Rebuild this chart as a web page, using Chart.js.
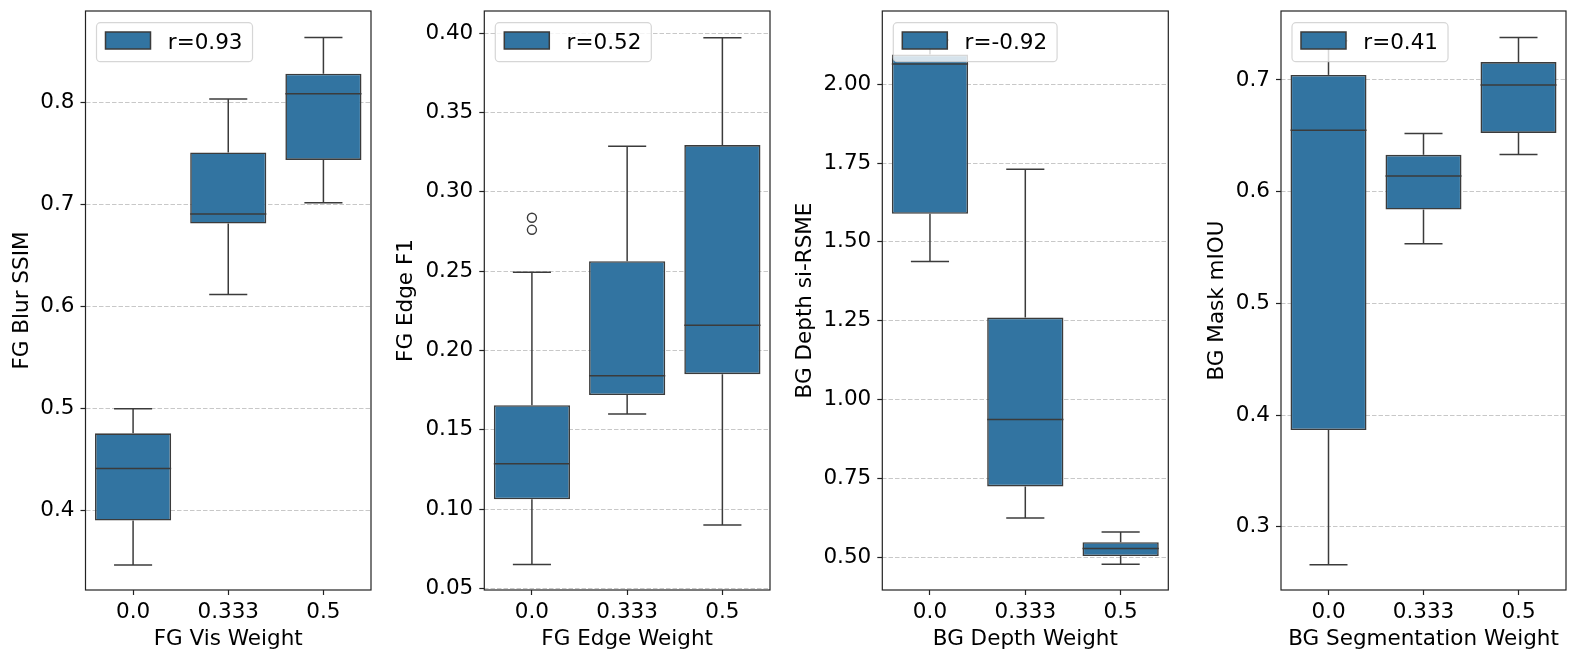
<!DOCTYPE html>
<html lang="en">
<head>
  <meta charset="UTF-8">
  <title>Weight vs metric boxplots</title>
  <script src="https://cdn.jsdelivr.net/npm/chart.js"></script>
  <style>
    body { margin: 0; background: #fff; }
    #wrap { position: relative; width: 1578px; height: 662px; overflow: hidden; background: #fff; }
    #wrap canvas { position: absolute; top: 0; }
  </style>
</head>
<body>
  <div id="wrap">
    <canvas id="c1" width="380" height="662" style="left:0px"></canvas>
    <canvas id="c2" width="396" height="662" style="left:380px"></canvas>
    <canvas id="c3" width="398" height="662" style="left:776px"></canvas>
    <canvas id="c4" width="404" height="662" style="left:1174px"></canvas>
  </div>

  <script>
    const categories = ['0.0', '0.333', '0.5'];

    // FG Vis Weight -> FG Blur SSIM
    const blurMin = [0.347, 0.612, 0.702];
    const blurQ1 = [0.3905, 0.6817, 0.744];
    const blurMed = [0.4416, 0.691, 0.809];
    const blurQ3 = [0.476, 0.7514, 0.8286];
    const blurMax = [0.500, 0.8037, 0.864];
    const blurOut = [[], [], []];
    const blurTicks = [0.4, 0.5, 0.6, 0.7, 0.8];

    // FG Edge Weight -> FG Edge F1
    const edgeMin = [0.065, 0.1599, 0.090];
    const edgeQ1 = [0.1062, 0.1719, 0.185];
    const edgeMed = [0.1286, 0.184, 0.2158];
    const edgeQ3 = [0.1655, 0.2562, 0.3294];
    const edgeMax = [0.2492, 0.3286, 0.397];
    const edgeOut = [[0.276, 0.2836], [], []];
    const edgeTicks = [0.05, 0.10, 0.15, 0.20, 0.25, 0.30, 0.35, 0.40];

    // BG Depth Weight -> BG Depth si-RSME
    const depthMin = [1.438, 0.625, 0.478];
    const depthQ1 = [1.589, 0.725, 0.504];
    const depthMed = [2.064, 0.937, 0.528];
    const depthQ3 = [2.094, 1.26, 0.548];
    const depthMax = [2.14, 1.730, 0.58];
    const depthOut = [[], [], []];
    const depthTicks = [0.50, 0.75, 1.00, 1.25, 1.50, 1.75, 2.00];

    // BG Segmentation Weight -> BG Mask mIOU
    const segMin = [0.266, 0.5534, 0.6333];
    const segQ1 = [0.3867, 0.584, 0.6526];
    const segMed = [0.655, 0.614, 0.6955];
    const segQ3 = [0.7045, 0.633, 0.716];
    const segMax = [0.735, 0.652, 0.738];
    const segOut = [[], [], []];
    const segTicks = [0.3, 0.4, 0.5, 0.6, 0.7];

    const BOX = '#3274a1';
    const LINE = '#3b3b3b';
    const FS = 21.5;
    const FONT = { family: 'DejaVu Sans', size: FS };

    const panels = [
      { id: 'c1', xTitle: 'FG Vis Weight', yTitle: 'FG Blur SSIM', legend: 'r=0.93',
        min: blurMin, q1: blurQ1, med: blurMed, q3: blurQ3, max: blurMax, out: blurOut,
        ticks: blurTicks, dec: 1, yMin: 0.3224, yMax: 0.890,
        axisW: 85.5, padR: 9, titlePad: 9.6 },
      { id: 'c2', xTitle: 'FG Edge Weight', yTitle: 'FG Edge F1', legend: 'r=0.52',
        min: edgeMin, q1: edgeQ1, med: edgeMed, q3: edgeQ3, max: edgeMax, out: edgeOut,
        ticks: edgeTicks, dec: 2, yMin: 0.049, yMax: 0.4139,
        axisW: 104.3, padR: 6, titlePad: 13.6 },
      { id: 'c3', xTitle: 'BG Depth Weight', yTitle: 'BG Depth si-RSME', legend: 'r=-0.92',
        min: depthMin, q1: depthQ1, med: depthMed, q3: depthQ3, max: depthMax, out: depthOut,
        ticks: depthTicks, dec: 2, yMin: 0.3965, yMax: 2.232,
        axisW: 106.3, padR: 5.7, titlePad: 16.6 },
      { id: 'c4', xTitle: 'BG Segmentation Weight', yTitle: 'BG Mask mIOU', legend: 'r=0.41',
        min: segMin, q1: segQ1, med: segMed, q3: segQ3, max: segMax, out: segOut,
        ticks: segTicks, dec: 1, yMin: 0.2435, yMax: 0.7617,
        axisW: 107, padR: 12, titlePad: 30.6 }
    ];

    function roundBox(ctx, x, y, w, h, r) {
      ctx.beginPath();
      ctx.moveTo(x + r, y);
      ctx.lineTo(x + w - r, y);
      ctx.arcTo(x + w, y, x + w, y + r, r);
      ctx.lineTo(x + w, y + h - r);
      ctx.arcTo(x + w, y + h, x + w - r, y + h, r);
      ctx.lineTo(x + r, y + h);
      ctx.arcTo(x, y + h, x, y + h - r, r);
      ctx.lineTo(x, y + r);
      ctx.arcTo(x, y, x + r, y, r);
      ctx.closePath();
    }

    // whiskers, medians, outliers, frame and the in-plot legend
    function boxExtras(p) {
      return {
        id: 'boxExtras',
        afterDatasetsDraw(chart) {
          const { ctx, chartArea: a, scales: { x, y } } = chart;
          const step = x.getPixelForValue(1) - x.getPixelForValue(0);
          const cap = step * 0.2;
          const half = step * 0.4;
          const line = (x0, y0, x1, y1) => {
            ctx.beginPath(); ctx.moveTo(x0, y0); ctx.lineTo(x1, y1); ctx.stroke();
          };
          ctx.save();
          ctx.beginPath();
          ctx.rect(a.left, a.top, a.right - a.left, a.bottom - a.top);
          ctx.clip();
          ctx.strokeStyle = LINE;
          ctx.lineWidth = 1.5;
          p.min.forEach((mn, i) => {
            const cx = x.getPixelForValue(i);
            const yMin = y.getPixelForValue(mn);
            const yMax = y.getPixelForValue(p.max[i]);
            line(cx, y.getPixelForValue(p.q1[i]), cx, yMin);
            line(cx - cap, yMin, cx + cap, yMin);
            line(cx, y.getPixelForValue(p.q3[i]), cx, yMax);
            line(cx - cap, yMax, cx + cap, yMax);
            const ym = y.getPixelForValue(p.med[i]);
            line(cx - half, ym, cx + half, ym);
            ctx.lineWidth = 1.4;
            p.out[i].forEach(v => {
              ctx.beginPath();
              ctx.arc(cx, y.getPixelForValue(v), 4.5, 0, Math.PI * 2);
              ctx.stroke();
            });
            ctx.lineWidth = 1.5;
          });
          ctx.restore();

          ctx.save();
          ctx.strokeStyle = '#222';
          ctx.lineWidth = 1.2;
          ctx.strokeRect(a.left, a.top, a.right - a.left, a.bottom - a.top);
          ctx.restore();
        },
        afterDraw(chart) {
          const { ctx, chartArea: a } = chart;
          ctx.save();
          ctx.font = FS + 'px "DejaVu Sans"';
          const tw = ctx.measureText(p.legend).width;
          const bx = a.left + 11, by = a.top + 11.7;
          const bw = 71.3 + tw + 10, bh = 39;
          roundBox(ctx, bx, by, bw, bh, 4);
          ctx.fillStyle = 'rgba(255,255,255,0.8)';
          ctx.fill();
          ctx.strokeStyle = 'rgba(204,204,204,0.8)';
          ctx.lineWidth = 1.2;
          ctx.stroke();
          ctx.fillStyle = BOX;
          ctx.fillRect(bx + 9, by + 9.3, 45, 17);
          ctx.strokeStyle = LINE;
          ctx.lineWidth = 1.5;
          ctx.strokeRect(bx + 9, by + 9.3, 45, 17);
          ctx.fillStyle = '#000';
          ctx.textBaseline = 'alphabetic';
          ctx.fillText(p.legend, bx + 71.3, by + 26.3);
          ctx.restore();
        }
      };
    }

    panels.forEach(p => {
      new Chart(document.getElementById(p.id), {
        type: 'bar',
        data: {
          labels: categories,
          datasets: [{
            label: p.legend,
            data: p.q1.map((v, i) => [v, p.q3[i]]),
            backgroundColor: BOX,
            borderColor: LINE,
            borderWidth: 1.6,
            borderSkipped: false,
            barPercentage: 0.8,
            categoryPercentage: 1.0
          }]
        },
        options: {
          responsive: false,
          animation: false,
          layout: { padding: { top: 11, right: p.padR, left: 0, bottom: 0 } },
          plugins: { legend: { display: false }, tooltip: { enabled: false } },
          scales: {
            x: {
              type: 'category',
              offset: true,
              afterFit: s => { s.height = 72; s.paddingLeft = 0; s.paddingRight = 0; },
              border: { display: false },
              grid: { drawOnChartArea: false, offset: false, tickLength: 5, tickColor: '#222', tickWidth: 1.2 },
              ticks: { font: FONT, color: '#000', padding: 5, maxRotation: 0, autoSkip: false },
              title: { display: true, text: p.xTitle, font: FONT, color: '#000', padding: { top: 0, bottom: 9.6 } }
            },
            y: {
              min: p.yMin,
              max: p.yMax,
              afterBuildTicks: s => { s.ticks = p.ticks.map(v => ({ value: v })); },
              afterFit: s => { s.width = p.axisW; s.paddingTop = 0; s.paddingBottom = 0; },
              border: { display: false, dash: [4.5, 2] },
              grid: {
                color: 'rgba(176,176,176,0.7)', lineWidth: 1,
                tickLength: 5, tickColor: '#222', tickWidth: 1.2, tickBorderDash: [10, 0]
              },
              ticks: { font: FONT, color: '#000', padding: 6, callback: v => Number(v).toFixed(p.dec) },
              title: { display: true, text: p.yTitle, font: FONT, color: '#000', padding: { top: p.titlePad, bottom: 0 } }
            }
          }
        },
        plugins: [boxExtras(p)]
      });
    });
  </script>
</body>
</html>
